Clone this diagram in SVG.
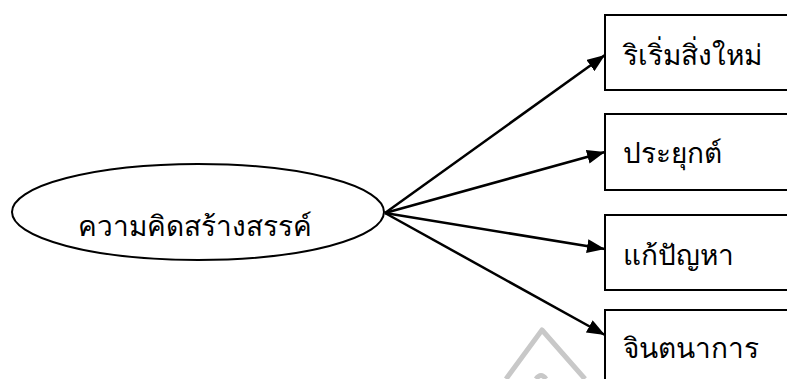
<svg xmlns="http://www.w3.org/2000/svg" width="787" height="379" viewBox="0 0 787 379">
<style>
.shape{fill:#fff;stroke:#000;stroke-width:2}
.lbl{font-family:"Liberation Serif","Noto Sans",serif;font-size:28px;fill:#000}
.conn{stroke:#000;stroke-width:2.5;fill:none}
</style>
<defs>
<marker id="ah" markerWidth="10" markerHeight="8" refX="10" refY="4" orient="auto" markerUnits="userSpaceOnUse" viewBox="0 0 10 8">
<path d="M0,0 L10,4 L0,8 z" fill="#000"/>
</marker>
<marker id="arr" markerWidth="18" markerHeight="14" refX="18" refY="7" orient="auto" markerUnits="userSpaceOnUse" viewBox="0 0 18 14">
<path d="M0,0 L18,7 L0,14 z" fill="#000"/>
</marker>
</defs>
<g id="watermark" fill="none" stroke="#c8c8c8" stroke-width="5" stroke-linejoin="round">
<polyline points="506,379 542,330 585,379"/>
<path d="M536,379 Q541,372 546,379"/>
</g>
<g id="n0">
<ellipse class="shape" cx="198" cy="212" rx="186" ry="48"/>
<text class="lbl" x="195" y="236" text-anchor="middle">ความคิดสร้างสรรค์</text>
</g>
<g id="n1">
<rect class="shape" x="605" y="15" width="190" height="75"/>
<text class="lbl" x="623" y="65">ริเริ่มสิ่งใหม่</text>
</g>
<g id="n2">
<rect class="shape" x="605" y="114" width="190" height="76"/>
<text class="lbl" x="623" y="163">ประยุกต์</text>
</g>
<g id="n3">
<rect class="shape" x="605" y="215" width="190" height="75"/>
<text class="lbl" x="623" y="265">แก้ปัญหา</text>
</g>
<g id="n4">
<rect class="shape" x="605" y="310" width="190" height="80"/>
<text class="lbl" x="623" y="358">จินตนาการ</text>
</g>
<g id="connectors">
<line class="conn" x1="385" y1="213" x2="605" y2="55" marker-end="url(#arr)"/>
<line class="conn" x1="385" y1="213" x2="605" y2="152" marker-end="url(#arr)"/>
<line class="conn" x1="385" y1="213" x2="605" y2="249" marker-end="url(#arr)"/>
<line class="conn" x1="385" y1="213" x2="605" y2="335" marker-end="url(#arr)"/>
</g>
</svg>
